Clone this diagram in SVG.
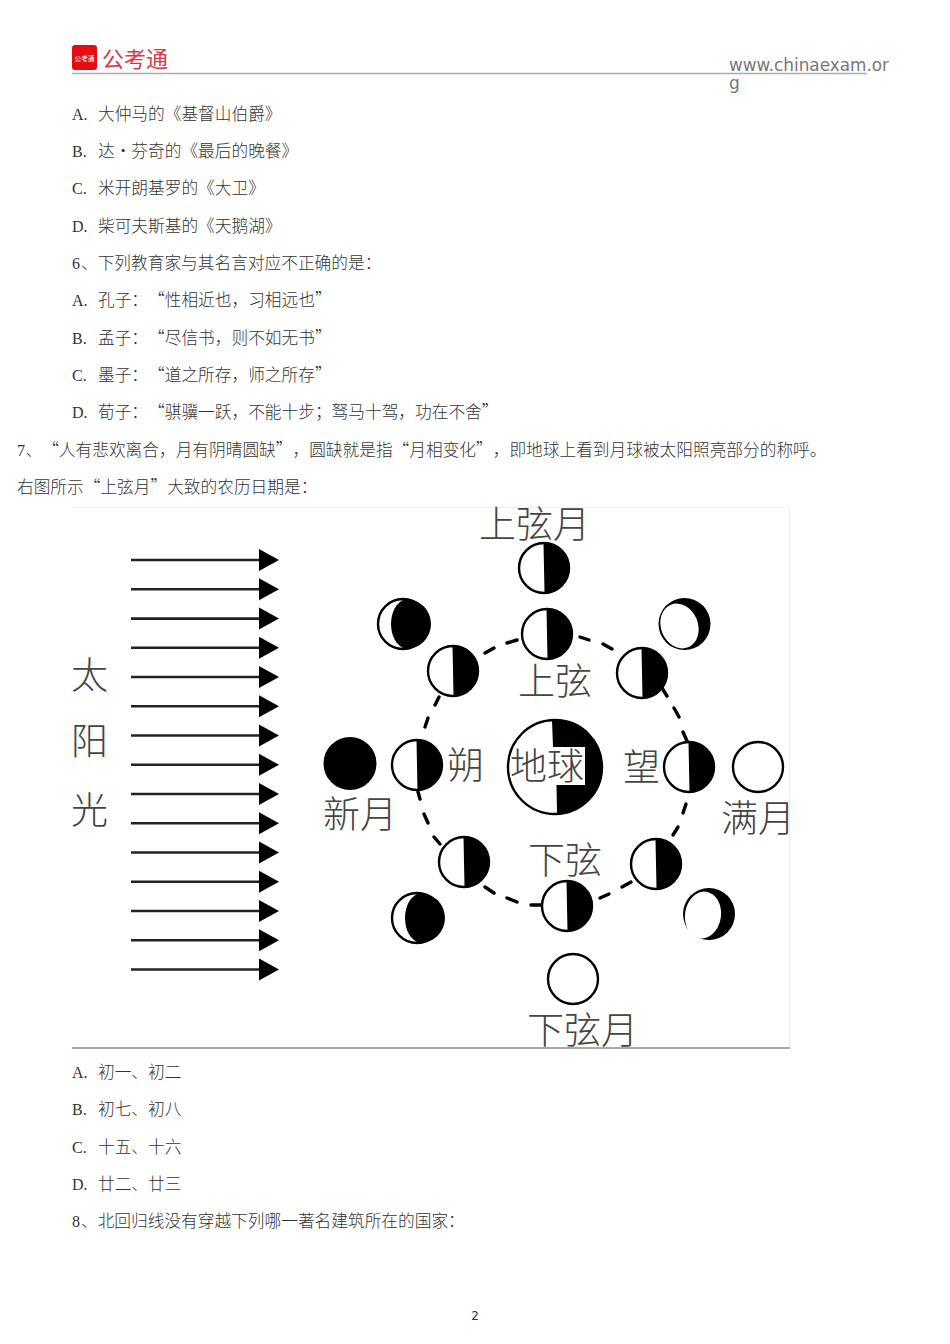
<svg xmlns="http://www.w3.org/2000/svg" width="950" height="1344" viewBox="0 0 950 1344">
<style>
text{font-family:"Noto Sans CJK SC","Noto Sans CJK TC",sans-serif;text-spacing-trim:space-all;font-kerning:none}
.t{font-size:16.7px;fill:#333;font-weight:300}
.l{font-family:"Liberation Serif",serif;font-size:16px}
.b{font-size:37px;fill:#444;font-weight:300}
.m{fill:#fff;stroke:#000;stroke-width:2.4}
.k{fill:#000}
.d{stroke:#000;stroke-width:3.4;stroke-linecap:round;fill:none}
.a{stroke:#222;stroke-width:2.6;fill:none}
.u{font-family:"DejaVu Sans",sans-serif;font-size:17px;fill:#777;font-kerning:normal}
</style>
<defs>
<g id="half"><circle class="m" r="25"/><path class="k" d="M-.5-25A25 25 0 0 1 .5 25Z"/></g>
<g id="cres"><circle class="m" r="25"/><path class="k" d="M3-25A25 25 0 0 1 3 25C-17 20-17-20 3-25Z"/></g>
<polygon id="head" points="0,-11 20,0 0,11" fill="#000"/>
</defs>
<rect width="950" height="1344" fill="#fff"/>

<g id="header">
<rect x="72" y="45" width="25" height="25" rx="3" fill="#e60c14"/>
<text x="74.500" y="60.500" font-size="6.700" fill="#fff">公考通</text>
<text x="102" y="66.500" font-size="22" fill="#d53a45">公考通</text>
<line x1="72" y1="73.500" x2="867" y2="73.500" stroke="#aaa" stroke-width="1.500"/>
<text class="u" x="729" y="71" textLength="160" lengthAdjust="spacingAndGlyphs">www.chinaexam.or</text>
<text class="u" x="729" y="89">g</text>
</g>

<g id="body-text-top">
<text class="t" y="120"><tspan class="l" x="72">A.</tspan><tspan x="98">大仲马的《基督山伯爵》</tspan></text>
<text class="t" y="157"><tspan class="l" x="72">B.</tspan><tspan x="98">达·芬奇的《最后的晚餐》</tspan></text>
<text class="t" y="194"><tspan class="l" x="72">C.</tspan><tspan x="98">米开朗基罗的《大卫》</tspan></text>
<text class="t" y="231.500"><tspan class="l" x="72">D.</tspan><tspan x="98">柴可夫斯基的《天鹅湖》</tspan></text>
<text class="t" y="269"><tspan class="l" x="72">6</tspan><tspan x="81">、下列教育家与其名言对应不正确的是：</tspan></text>
<text class="t" y="306"><tspan class="l" x="72">A.</tspan><tspan x="98">孔子：“性相近也，习相远也”</tspan></text>
<text class="t" y="343.500"><tspan class="l" x="72">B.</tspan><tspan x="98">孟子：“尽信书，则不如无书”</tspan></text>
<text class="t" y="381"><tspan class="l" x="72">C.</tspan><tspan x="98">墨子：“道之所存，师之所存”</tspan></text>
<text class="t" y="418"><tspan class="l" x="72">D.</tspan><tspan x="98">荀子：“骐骥一跃，不能十步；驽马十驾，功在不舍”</tspan></text>
<text class="t" y="456"><tspan class="l" x="17">7</tspan><tspan x="25.500">、“人有悲欢离合，月有阴晴圆缺”，圆缺就是指“月相变化”，即地球上看到月球被太阳照亮部分的称呼。</tspan></text>
<text class="t" x="17" y="493">右图所示“上弦月”大致的农历日期是：</text>
</g>

<g id="figure-frame">
<line x1="72" y1="507.500" x2="789" y2="507.500" stroke="#f0f0f0"/>
<line x1="789.500" y1="507" x2="789.500" y2="1047" stroke="#eee"/>
<line x1="72" y1="1048" x2="790" y2="1048" stroke="#aaa" stroke-width="2"/>
</g>

<g id="sunlight">
<g class="a">
<line x1="131" y1="560" x2="262" y2="560"/><line x1="131" y1="589.300" x2="262" y2="589.300"/><line x1="131" y1="618.600" x2="262" y2="618.600"/><line x1="131" y1="647.800" x2="262" y2="647.800"/><line x1="131" y1="677" x2="262" y2="677"/>
<line x1="131" y1="706.300" x2="262" y2="706.300"/><line x1="131" y1="735.500" x2="262" y2="735.500"/><line x1="131" y1="764.800" x2="262" y2="764.800"/><line x1="131" y1="794" x2="262" y2="794"/><line x1="131" y1="823.300" x2="262" y2="823.300"/>
<line x1="131" y1="852.500" x2="262" y2="852.500"/><line x1="131" y1="881.800" x2="262" y2="881.800"/><line x1="131" y1="911" x2="262" y2="911"/><line x1="131" y1="940.300" x2="262" y2="940.300"/><line x1="131" y1="969.500" x2="262" y2="969.500"/>
</g>
<use href="#head" x="259" y="560"/><use href="#head" x="259" y="589.300"/><use href="#head" x="259" y="618.600"/><use href="#head" x="259" y="647.800"/><use href="#head" x="259" y="677"/>
<use href="#head" x="259" y="706.300"/><use href="#head" x="259" y="735.500"/><use href="#head" x="259" y="764.800"/><use href="#head" x="259" y="794"/><use href="#head" x="259" y="823.300"/>
<use href="#head" x="259" y="852.500"/><use href="#head" x="259" y="881.800"/><use href="#head" x="259" y="911"/><use href="#head" x="259" y="940.300"/><use href="#head" x="259" y="969.500"/>
<text class="b" x="71" y="689">太</text>
<text class="b" x="71" y="755">阳</text>
<text class="b" x="71" y="824">光</text>
</g>

<g id="connectors" class="d">
<path d="M485 653L494 648M507 643L517 640M580 637L589 640M603 644L612 649M662 688L667 696M674 708L679 717M683 732L687 741"/>
<path d="M435 705L439 697M425 727L428 718M418 792L420 799M424 814L428 823M434 837L440 844M485 887L494 893M507 898L517 902M531 905L542 905"/>
<path d="M600 898L609 894M622 887L631 882M673 835L678 827M683 813L686 804"/>
</g>

<g id="moon-first-quarter-outer"><use href="#half" x="544" y="568"/></g>
<g id="moon-upper"><use href="#half" x="547" y="634"/></g>
<g id="moon-upper-left"><use href="#half" x="453" y="671"/></g>
<g id="moon-upper-right"><use href="#half" x="642" y="673"/></g>
<g id="moon-left"><use href="#half" x="417" y="765"/></g>
<g id="moon-right"><use href="#half" x="689" y="767"/></g>
<g id="moon-lower-left"><use href="#half" x="464" y="862"/></g>
<g id="moon-lower-right"><use href="#half" x="656" y="864"/></g>
<g id="moon-lower"><use href="#half" x="567" y="906"/></g>
<g id="crescent-upper-left"><use href="#cres" x="403" y="624"/></g>
<g id="crescent-lower-left"><use href="#cres" x="417" y="918"/></g>
<g id="gibbous-upper-right"><circle class="k" cx="684.500" cy="624" r="26"/><ellipse cx="679.500" cy="626" rx="18.500" ry="23" transform="rotate(-22 679.500 626)" fill="#fff"/></g>
<g id="gibbous-lower-right"><circle class="k" cx="709" cy="914" r="26"/><ellipse cx="703" cy="915" rx="18" ry="23.500" transform="rotate(8 703 915)" fill="#fff"/></g>
<g id="new-moon"><circle class="k" cx="350" cy="763.500" r="26.500"/></g>
<g id="full-moon"><circle class="m" cx="758" cy="767" r="25"/></g>
<g id="bottom-moon"><circle class="m" cx="573" cy="979" r="25"/></g>

<g id="earth">
<circle class="m" cx="555" cy="767" r="47"/>
<path class="k" d="M552 720A47 47 0 0 1 557 814L556.500 785H585V747H553Z"/>
<text class="b" x="510" y="780">地球</text>
</g>

<g id="figure-labels">
<text class="b" x="479" y="538">上弦月</text>
<text class="b" x="518" y="695">上弦</text>
<text class="b" x="447" y="779">朔</text>
<text class="b" x="623" y="781">望</text>
<text class="b" x="323" y="828">新月</text>
<text class="b" x="721" y="832">满月</text>
<text class="b" x="528" y="874">下弦</text>
<text class="b" x="527" y="1044">下弦月</text>
</g>

<g id="body-text-bottom">
<text class="t" y="1078"><tspan class="l" x="72">A.</tspan><tspan x="98">初一、初二</tspan></text>
<text class="t" y="1115"><tspan class="l" x="72">B.</tspan><tspan x="98">初七、初八</tspan></text>
<text class="t" y="1153"><tspan class="l" x="72">C.</tspan><tspan x="98">十五、十六</tspan></text>
<text class="t" y="1190"><tspan class="l" x="72">D.</tspan><tspan x="98">廿二、廿三</tspan></text>
<text class="t" y="1227"><tspan class="l" x="72">8</tspan><tspan x="81">、北回归线没有穿越下列哪一著名建筑所在的国家：</tspan></text>
</g>
<text id="page-number" x="475" y="1320" text-anchor="middle" style="font-family:'DejaVu Sans',sans-serif;font-size:12px;fill:#333">2</text>
</svg>
